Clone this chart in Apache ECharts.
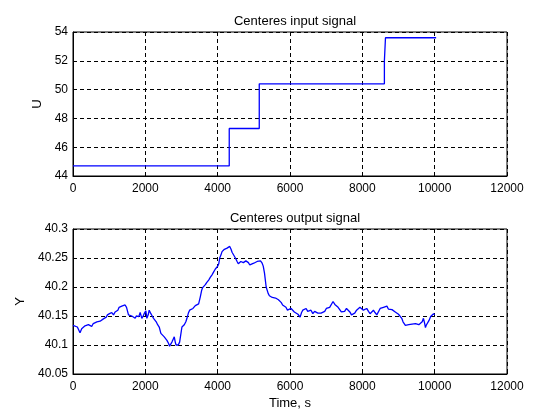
<!DOCTYPE html>
<html>
<head>
<meta charset="utf-8">
<script src="https://cdn.jsdelivr.net/npm/echarts@6/dist/echarts.min.js"></script>
<style>html,body{margin:0;padding:0;background:#fff}#c{width:560px;height:420px}</style>
</head>
<body>
<div id="c"></div>
<script>
const xTicks = [0, 2000, 4000, 6000, 8000, 10000, 12000];
const inputTime = [0, 4320, 4320, 5150, 5150, 8610, 8610, 8640, 8640, 10040];
const inputU = [44.7, 44.7, 47.3, 47.3, 50.4, 50.4, 52.0, 52.0, 53.6, 53.6];
const outputTime = [0,55,120,160,194,240,290,333,380,425,470,517,560,610,660,702,750,795,840,887,920,952,1010,1072,1120,1164,1210,1240,1275,1310,1349,1400,1441,1480,1506,1534,1580,1626,1670,1719,1750,1783,1820,1857,1903,1940,1968,2014,2042,2080,2107,2153,2190,2227,2301,2340,2384,2430,2480,2523,2560,2597,2640,2670,2700,2735,2770,2800,2827,2850,2874,2910,2948,3012,3040,3077,3120,3151,3190,3225,3270,3317,3350,3382,3430,3474,3520,3560,3585,3620,3659,3700,3751,3800,3844,3890,3936,4001,4030,4056,4090,4121,4150,4186,4220,4260,4300,4334,4370,4398,4444,4490,4537,4570,4611,4640,4676,4710,4740,4780,4814,4850,4888,4940,4999,5050,5091,5140,5184,5230,5260,5295,5341,5396,5430,5461,5510,5553,5600,5646,5680,5720,5760,5795,5840,5888,5930,5981,6030,6074,6120,6167,6220,6279,6320,6353,6400,6446,6490,6539,6580,6632,6680,6725,6770,6818,6860,6911,6960,7004,7050,7097,7140,7190,7240,7283,7330,7376,7420,7469,7510,7562,7610,7655,7700,7748,7790,7841,7890,7934,7980,8028,8070,8121,8170,8214,8260,8307,8350,8400,8450,8493,8540,8586,8630,8679,8720,8772,8820,8865,8910,8958,9000,9051,9090,9125,9160,9190,9240,9283,9330,9376,9420,9469,9510,9562,9610,9655,9690,9720,9745,9767,9800,9841,9890,9934,9970,9999,10046];
const outputY = [40.134,40.133,40.131,40.128,40.121,40.128,40.131,40.133,40.136,40.135,40.133,40.132,40.137,40.136,40.140,40.143,40.141,40.144,40.145,40.142,40.148,40.152,40.154,40.156,40.152,40.157,40.154,40.160,40.165,40.163,40.167,40.165,40.169,40.165,40.166,40.152,40.155,40.150,40.148,40.146,40.150,40.152,40.149,40.156,40.146,40.150,40.154,40.159,40.146,40.152,40.160,40.154,40.150,40.146,40.140,40.135,40.131,40.120,40.118,40.114,40.111,40.108,40.103,40.098,40.101,40.105,40.110,40.114,40.105,40.100,40.097,40.100,40.105,40.131,40.133,40.135,40.140,40.146,40.155,40.160,40.161,40.163,40.166,40.168,40.169,40.171,40.183,40.195,40.199,40.202,40.204,40.208,40.212,40.217,40.221,40.226,40.231,40.236,40.240,40.250,40.255,40.261,40.263,40.265,40.262,40.267,40.264,40.270,40.265,40.260,40.258,40.250,40.244,40.240,40.241,40.244,40.246,40.242,40.240,40.245,40.246,40.242,40.238,40.240,40.241,40.240,40.244,40.242,40.245,40.241,40.236,40.224,40.200,40.189,40.185,40.183,40.182,40.182,40.181,40.180,40.178,40.175,40.173,40.169,40.167,40.165,40.160,40.157,40.163,40.161,40.157,40.160,40.153,40.148,40.156,40.160,40.162,40.163,40.158,40.157,40.160,40.154,40.158,40.160,40.155,40.157,40.155,40.152,40.158,40.163,40.160,40.165,40.168,40.175,40.170,40.169,40.165,40.163,40.157,40.160,40.158,40.163,40.160,40.157,40.152,40.149,40.155,40.160,40.163,40.165,40.162,40.160,40.157,40.163,40.158,40.154,40.157,40.160,40.156,40.152,40.155,40.163,40.162,40.165,40.163,40.167,40.162,40.160,40.161,40.159,40.157,40.156,40.153,40.150,40.146,40.140,40.137,40.134,40.136,40.135,40.138,40.136,40.134,40.137,40.137,40.135,40.138,40.140,40.146,40.138,40.130,40.134,40.137,40.142,40.149,40.152,40.154,40.152];

const inputData = inputTime.map((t, i) => [t, inputU[i]]);
const outputData = outputTime.map((t, i) => [t, outputY[i]]);

const FONT = 'Liberation Sans, Arial, Helvetica, sans-serif';
const gridLine = {show: true, lineStyle: {color: '#000', type: [4, 3], width: 1}};
function xAxis(gridIndex, name) {
  return {
    type: 'value', gridIndex, min: 0, max: 12000, interval: 2000,
    axisLine: {show: true, onZero: false, lineStyle: {color: '#000'}},
    axisTick: {show: true, inside: true, length: 4, lineStyle: {color: '#000'}},
    axisLabel: {color: '#000', fontSize: 12, fontFamily: FONT, margin: 7, formatter: v => String(v)},
    splitLine: gridLine,
    name: name || '', nameLocation: 'middle', nameGap: 23,
    nameTextStyle: {color: '#000', fontSize: 13, fontFamily: FONT}
  };
}
function yAxis(gridIndex, min, max, interval, name, gap, fmt) {
  return {
    type: 'value', gridIndex, min, max, interval,
    axisLine: {show: true, lineStyle: {color: '#000'}},
    axisTick: {show: true, inside: true, length: 4, lineStyle: {color: '#000'}},
    axisLabel: {color: '#000', fontSize: 12, fontFamily: FONT, margin: 5, formatter: fmt},
    splitLine: gridLine,
    name, nameLocation: 'middle', nameGap: gap, nameRotate: 90,
    nameTextStyle: {color: '#000', fontSize: 13, fontFamily: FONT}
  };
}
const chart = echarts.init(document.getElementById('c'), null, {renderer: 'canvas'});
chart.setOption({
  animation: false,
  backgroundColor: '#fff',
  title: [
    {text: 'Centeres input signal', left: 290, textAlign: 'center', top: 10,
     textStyle: {fontSize: 13, fontWeight: 'normal', color: '#000', fontFamily: FONT}},
    {text: 'Centeres output signal', left: 290, textAlign: 'center', top: 207,
     textStyle: {fontSize: 13, fontWeight: 'normal', color: '#000', fontFamily: FONT}}
  ],
  grid: [
    {left: 73, top: 32, width: 434, height: 144, show: true, borderColor: '#000', borderWidth: 1, backgroundColor: '#fff'},
    {left: 73, top: 229, width: 434, height: 145, show: true, borderColor: '#000', borderWidth: 1, backgroundColor: '#fff'}
  ],
  xAxis: [xAxis(0), xAxis(1, 'Time, s')],
  yAxis: [
    yAxis(0, 44, 54, 2, 'U', 28, v => String(v)),
    yAxis(1, 40.05, 40.3, 0.05, 'Y', 45, v => String(Number(v.toFixed(2))))
  ],
  series: [
    {type: 'line', xAxisIndex: 0, yAxisIndex: 0, data: inputData, showSymbol: false,
     lineStyle: {color: '#0000ff', width: 1.3}},
    {type: 'line', xAxisIndex: 1, yAxisIndex: 1, data: outputData, showSymbol: false,
     lineStyle: {color: '#0000ff', width: 1.3}}
  ]
});
</script>
</body>
</html>
